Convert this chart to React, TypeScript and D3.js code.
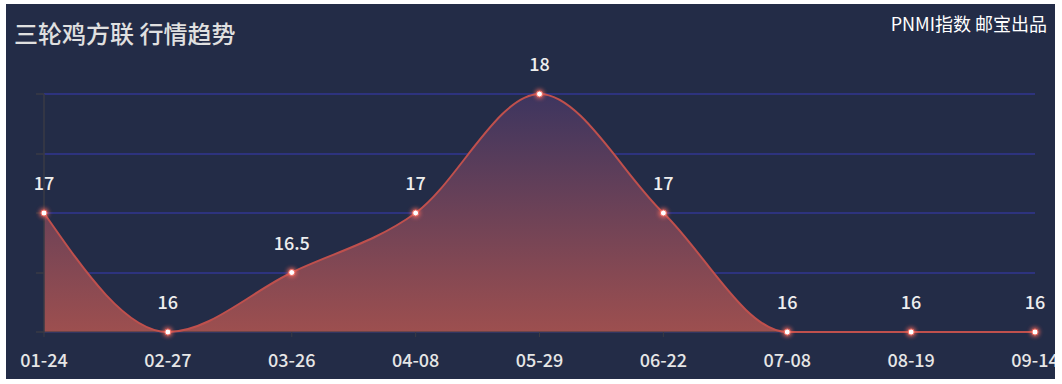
import React from "react";
import * as d3 from "d3";

const categories = ["01-24", "02-27", "03-26", "04-08", "05-29", "06-22", "07-08", "08-19", "09-14"];
const values = [17, 16, 16.5, 17, 18, 17, 16, 16, 16];
const yTicks = [16, 16.5, 17, 17.5, 18];
const title = "三轮鸡方联 行情趋势";
const subtitle = "PNMI指数 邮宝出品";

const W = 1062;
const H = 384;
const panel = { x: 6, y: 4, w: 1049, h: 375 };
const FONT = '"Microsoft YaHei", "Noto Sans CJK SC", sans-serif';

export default function App() {
  const x = d3.scalePoint<string>().domain(categories).range([44, 1035]);
  const y = d3.scaleLinear().domain([16, 18]).range([332, 94]);
  const pts = categories.map((c, i) => [x(c) as number, y(values[i])] as [number, number]);
  const line = d3.line<[number, number]>().x((d) => d[0]).y((d) => d[1]).curve(d3.curveMonotoneX);
  const area = d3
    .area<[number, number]>()
    .x((d) => d[0])
    .y0(y(16))
    .y1((d) => d[1])
    .curve(d3.curveMonotoneX);
  const crisp = (v: number) => Math.round(v);

  return (
    <svg
      width={W}
      height={H}
      style={{ position: "absolute", left: 0, top: 0, display: "block" }}
    >
      <defs>
        <clipPath id="panelClip">
          <rect x={panel.x} y={panel.y} width={panel.w} height={panel.h} />
        </clipPath>
        <linearGradient id="areaGrad" gradientUnits="userSpaceOnUse" x1={0} y1={y(18)} x2={0} y2={y(16)}>
          <stop offset="0%" stopColor="#3d355f" />
          <stop offset="100%" stopColor="#9d4f4f" />
        </linearGradient>
        <filter id="glow" x="-2" y="-2" width="5" height="5">
          <feGaussianBlur stdDeviation="2" />
        </filter>
      </defs>
      <rect x={0} y={0} width={W} height={H} fill="#ffffff" />
      <g clipPath="url(#panelClip)">
        <rect x={panel.x} y={panel.y} width={panel.w} height={panel.h} fill="#232c47" />
        {yTicks.map((t) => (
          <g key={t}>
            <line x1={44} x2={1035} y1={crisp(y(t))} y2={crisp(y(t))} stroke="#2d337e" strokeWidth={2} />
            <line x1={36} x2={44} y1={crisp(y(t))} y2={crisp(y(t))} stroke="#3a3a44" strokeWidth={1.5} />
          </g>
        ))}
        <path d={area(pts) || ""} fill="url(#areaGrad)" />
        <line x1={44} x2={44} y1={y(18)} y2={y(16)} stroke="#3a3a44" strokeWidth={1.5} />
        <line x1={44} x2={1035} y1={y(16)} y2={y(16)} stroke="#3a3a44" strokeWidth={1} />
        {categories.map((c) => (
          <line key={c} x1={x(c)} x2={x(c)} y1={y(16)} y2={y(16) + 5} stroke="#3a3a44" strokeWidth={1} />
        ))}
        <path d={line(pts) || ""} fill="none" stroke="#bf504d" strokeWidth={2} />
        {pts.map((p, i) => (
          <g key={i}>
            <circle cx={p[0]} cy={p[1]} r={4.5} fill="#ff6a5c" opacity={0.9} filter="url(#glow)" />
            <circle cx={p[0]} cy={p[1]} r={3} fill="#ffffff" stroke="#f06a60" strokeWidth={1} />
          </g>
        ))}
        {pts.map((p, i) => (
          <text
            key={"l" + i}
            x={p[0]}
            y={p[1] - 23}
            textAnchor="middle"
            fill="#eeeeee"
            fontSize={18}
            fontWeight={500}
            fontFamily={FONT}
          >
            {values[i]}
          </text>
        ))}
        {categories.map((c) => (
          <text
            key={"x" + c}
            x={x(c)}
            y={367}
            textAnchor="middle"
            fill="#e6e6e6"
            fontSize={18}
            fontWeight={500}
            fontFamily={FONT}
          >
            {c}
          </text>
        ))}
        <text x={14} y={43} fill="#e0e0e0" fontSize={24} fontWeight={500} fontFamily={FONT}>
          {title}
        </text>
        <text x={1047} y={31} textAnchor="end" fill="#ffffff" fontSize={18} fontFamily={FONT}>
          {subtitle}
        </text>
      </g>
    </svg>
  );
}
